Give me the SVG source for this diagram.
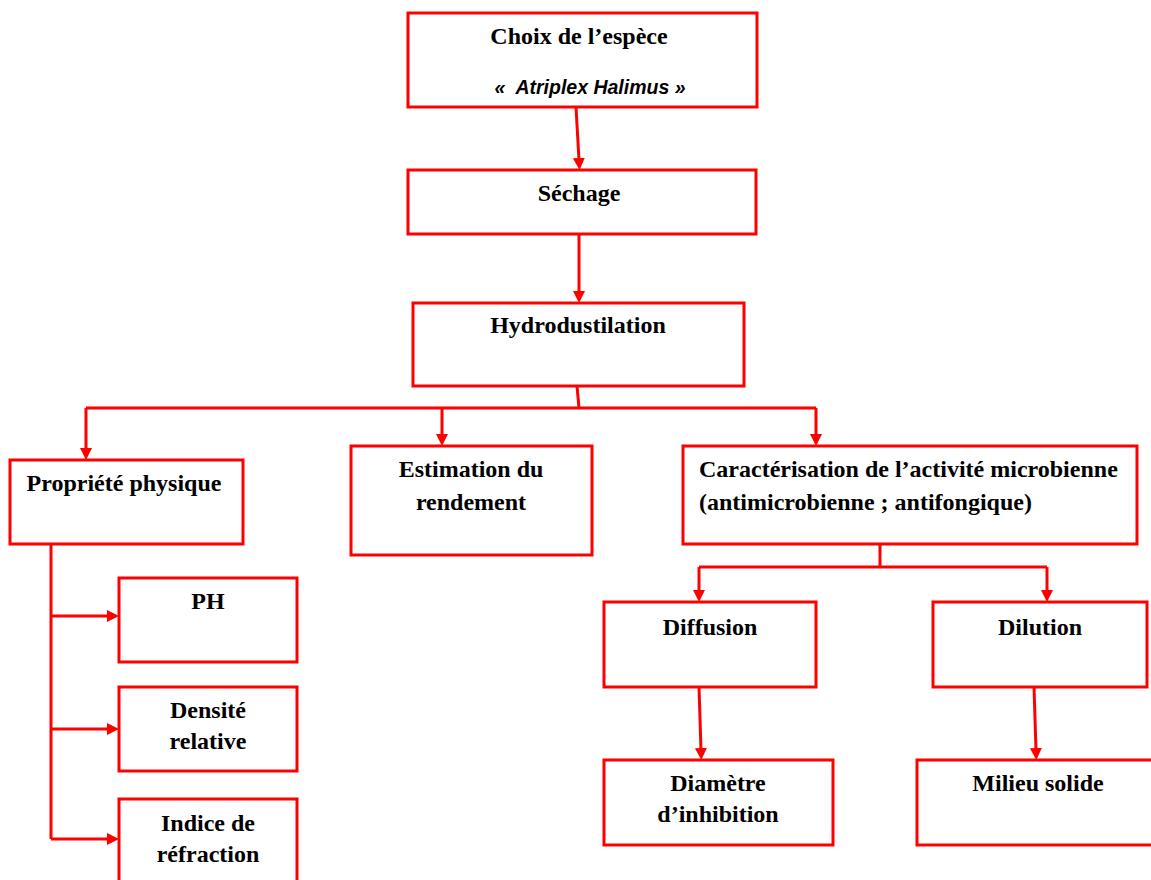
<svg xmlns="http://www.w3.org/2000/svg" width="1151" height="880" viewBox="0 0 1151 880">
<style>
.box{fill:#fff;stroke:#ff0000;stroke-width:3}
.t{font-family:"Liberation Serif","Times New Roman",serif;font-weight:bold;font-size:24px;fill:#000}
.c{text-anchor:middle}
.it{font-family:"Liberation Sans",Arial,sans-serif;font-weight:bold;font-style:italic;font-size:19.5px;fill:#000;text-anchor:middle}
.ln{fill:none;stroke:#ff0000;stroke-width:3}
.ar{marker-end:url(#ah)}
</style>
<defs>
<marker id="ah" markerUnits="userSpaceOnUse" markerWidth="14" markerHeight="14" refX="2" refY="6" orient="auto">
<path d="M0,0 L12,6 L0,12 z" fill="#ff0000"/>
</marker>
</defs>
<rect width="1151" height="880" fill="#fff"/>
<g id="connectors">
<line class="ln ar" x1="576" y1="107" x2="579" y2="160"/>
<line class="ln ar" x1="579" y1="234" x2="579" y2="293"/>
<polyline class="ln" points="577,386 579,408"/>
<polyline class="ln" points="86,408 816,408"/>
<line class="ln ar" x1="86" y1="408" x2="86" y2="450"/>
<line class="ln ar" x1="442" y1="408" x2="442" y2="436"/>
<line class="ln ar" x1="816" y1="408" x2="816" y2="436"/>
<polyline class="ln" points="51,544 51,839"/>
<line class="ln ar" x1="51" y1="616" x2="109" y2="616"/>
<line class="ln ar" x1="51" y1="729" x2="109" y2="729"/>
<line class="ln ar" x1="51" y1="839" x2="109" y2="839"/>
<polyline class="ln" points="880,544 880,567"/>
<polyline class="ln" points="699,567 1047,567"/>
<line class="ln ar" x1="699" y1="567" x2="699" y2="592"/>
<line class="ln ar" x1="1047" y1="567" x2="1047" y2="592"/>
<line class="ln ar" x1="699" y1="687" x2="701" y2="750"/>
<line class="ln ar" x1="1034" y1="687" x2="1036" y2="750"/>
</g>
<g id="n-choix">
<rect class="box" x="408" y="13" width="349" height="94"/>
<text class="t c" x="579" y="44">Choix de l’espèce</text>
<text class="it" x="590" y="94">«&#160; Atriplex Halimus »</text>
</g>
<g id="n-sechage">
<rect class="box" x="408" y="170" width="348" height="64"/>
<text class="t c" x="579" y="201">Séchage</text>
</g>
<g id="n-hydro">
<rect class="box" x="413" y="303" width="331" height="83"/>
<text class="t c" x="578" y="333">Hydrodustilation</text>
</g>
<g id="n-propriete">
<rect class="box" x="10" y="460" width="233" height="84"/>
<text class="t c" x="124" y="491">Propriété physique</text>
</g>
<g id="n-estimation">
<rect class="box" x="351" y="446" width="241" height="109"/>
<text class="t c" x="471" y="477">Estimation du</text>
<text class="t c" x="471" y="510">rendement</text>
</g>
<g id="n-caract">
<rect class="box" x="683" y="446" width="454" height="98"/>
<text class="t" x="699" y="477">Caractérisation de l’activité microbienne</text>
<text class="t" x="699" y="510">(antimicrobienne ; antifongique)</text>
</g>
<g id="n-ph">
<rect class="box" x="119" y="578" width="178" height="84"/>
<text class="t c" x="208" y="609">PH</text>
</g>
<g id="n-densite">
<rect class="box" x="119" y="687" width="178" height="84"/>
<text class="t c" x="208" y="718">Densité</text>
<text class="t c" x="208" y="749">relative</text>
</g>
<g id="n-indice">
<rect class="box" x="119" y="799" width="178" height="100"/>
<text class="t c" x="208" y="831">Indice de</text>
<text class="t c" x="208" y="862">réfraction</text>
</g>
<g id="n-diffusion">
<rect class="box" x="604" y="602" width="212" height="85"/>
<text class="t c" x="710" y="635">Diffusion</text>
</g>
<g id="n-dilution">
<rect class="box" x="933" y="602" width="214" height="85"/>
<text class="t c" x="1040" y="635">Dilution</text>
</g>
<g id="n-diametre">
<rect class="box" x="604" y="760" width="229" height="85"/>
<text class="t c" x="718" y="791">Diamètre</text>
<text class="t c" x="718" y="822">d’inhibition</text>
</g>
<g id="n-milieu">
<rect class="box" x="917" y="760" width="250" height="85"/>
<text class="t c" x="1038" y="791">Milieu solide</text>
</g>
</svg>
